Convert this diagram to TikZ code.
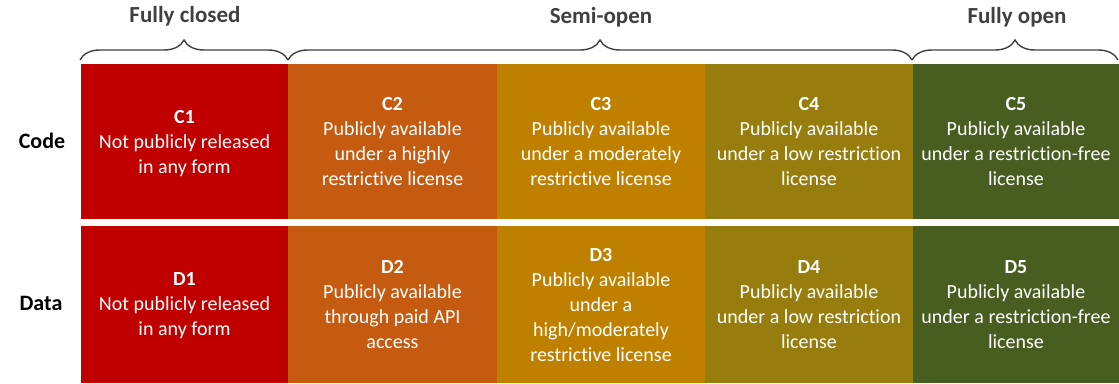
\documentclass[tikz,border=0pt]{standalone}
\usepackage{fontspec}
\setmainfont{Carlito}[Ligatures={NoCommon}]
\usetikzlibrary{decorations.pathreplacing}
\definecolor{cA}{HTML}{C00000}
\definecolor{cB}{HTML}{C55A11}
\definecolor{cC}{HTML}{BF8000}
\definecolor{cD}{HTML}{967D0E}
\definecolor{cE}{HTML}{475E20}
\definecolor{hdr}{HTML}{404040}
\tikzset{
  cell/.style={anchor=north west, inner sep=0pt, outer sep=0pt, minimum height=#1, text=white, align=center,
    font=\fontsize{20}{25}\selectfont, text depth=0pt},
  rowlab/.style={font=\fontsize{22}{26}\selectfont\bfseries, text=black},
  hdrlab/.style={font=\fontsize{23}{26}\selectfont\bfseries, text=hdr},
  bracestyle/.style={draw=hdr, line width=1.4pt, decorate, decoration={brace, amplitude=20pt}},
}
\begin{document}
\begin{tikzpicture}[x=1pt,y=-1pt]
\useasboundingbox (0,0) rectangle (1119,383);
% code row
\node[cell=155pt, minimum width=207pt, fill=cA] (c1) at (81,64) {\textbf{C1}\\Not publicly released\\in any form};
\node[cell=155pt, minimum width=209pt, fill=cB] (c2) at (288,64) {\textbf{C2}\\Publicly available\\under a highly\\restrictive license};
\node[cell=155pt, minimum width=208pt, fill=cC] (c3) at (497,64) {\textbf{C3}\\Publicly available\\under a moderately\\restrictive license};
\node[cell=155pt, minimum width=208pt, fill=cD] (c4) at (705,64) {\textbf{C4}\\Publicly available\\under a low restriction\\license};
\node[cell=155pt, minimum width=206pt, fill=cE] (c5) at (913,64) {\textbf{C5}\\Publicly available\\under a restriction-free\\license};
% data row
\node[cell=157pt, minimum width=207pt, fill=cA] (d1) at (81,226) {\textbf{D1}\\Not publicly released\\in any form};
\node[cell=157pt, minimum width=209pt, fill=cB] (d2) at (288,226) {\textbf{D2}\\Publicly available\\through paid API\\access};
\node[cell=157pt, minimum width=208pt, fill=cC] (d3) at (497,226) {\textbf{D3}\\Publicly available\\under a\\high/moderately\\restrictive license};
\node[cell=157pt, minimum width=208pt, fill=cD] (d4) at (705,226) {\textbf{D4}\\Publicly available\\under a low restriction\\license};
\node[cell=157pt, minimum width=206pt, fill=cE] (d5) at (913,226) {\textbf{D5}\\Publicly available\\under a restriction-free\\license};
% row labels
\node[rowlab] (code) at (42,141) {Code};
\node[rowlab] (data) at (41,303) {Data};
% braces
\coordinate (b0) at (80,60);
\coordinate (b1) at (288,60);
\coordinate (b2) at (912,60);
\coordinate (b3) at (1118,60);
\draw[bracestyle] (b0) -- (b1);
\draw[bracestyle] (b1) -- (b2);
\draw[bracestyle] (b2) -- (b3);
% header labels
\node[hdrlab] (h1) at (185,16) {Fully closed};
\node[hdrlab] (h2) at (601,17) {Semi-open};
\node[hdrlab] (h3) at (1017,17) {Fully open};
\end{tikzpicture}
\end{document}
